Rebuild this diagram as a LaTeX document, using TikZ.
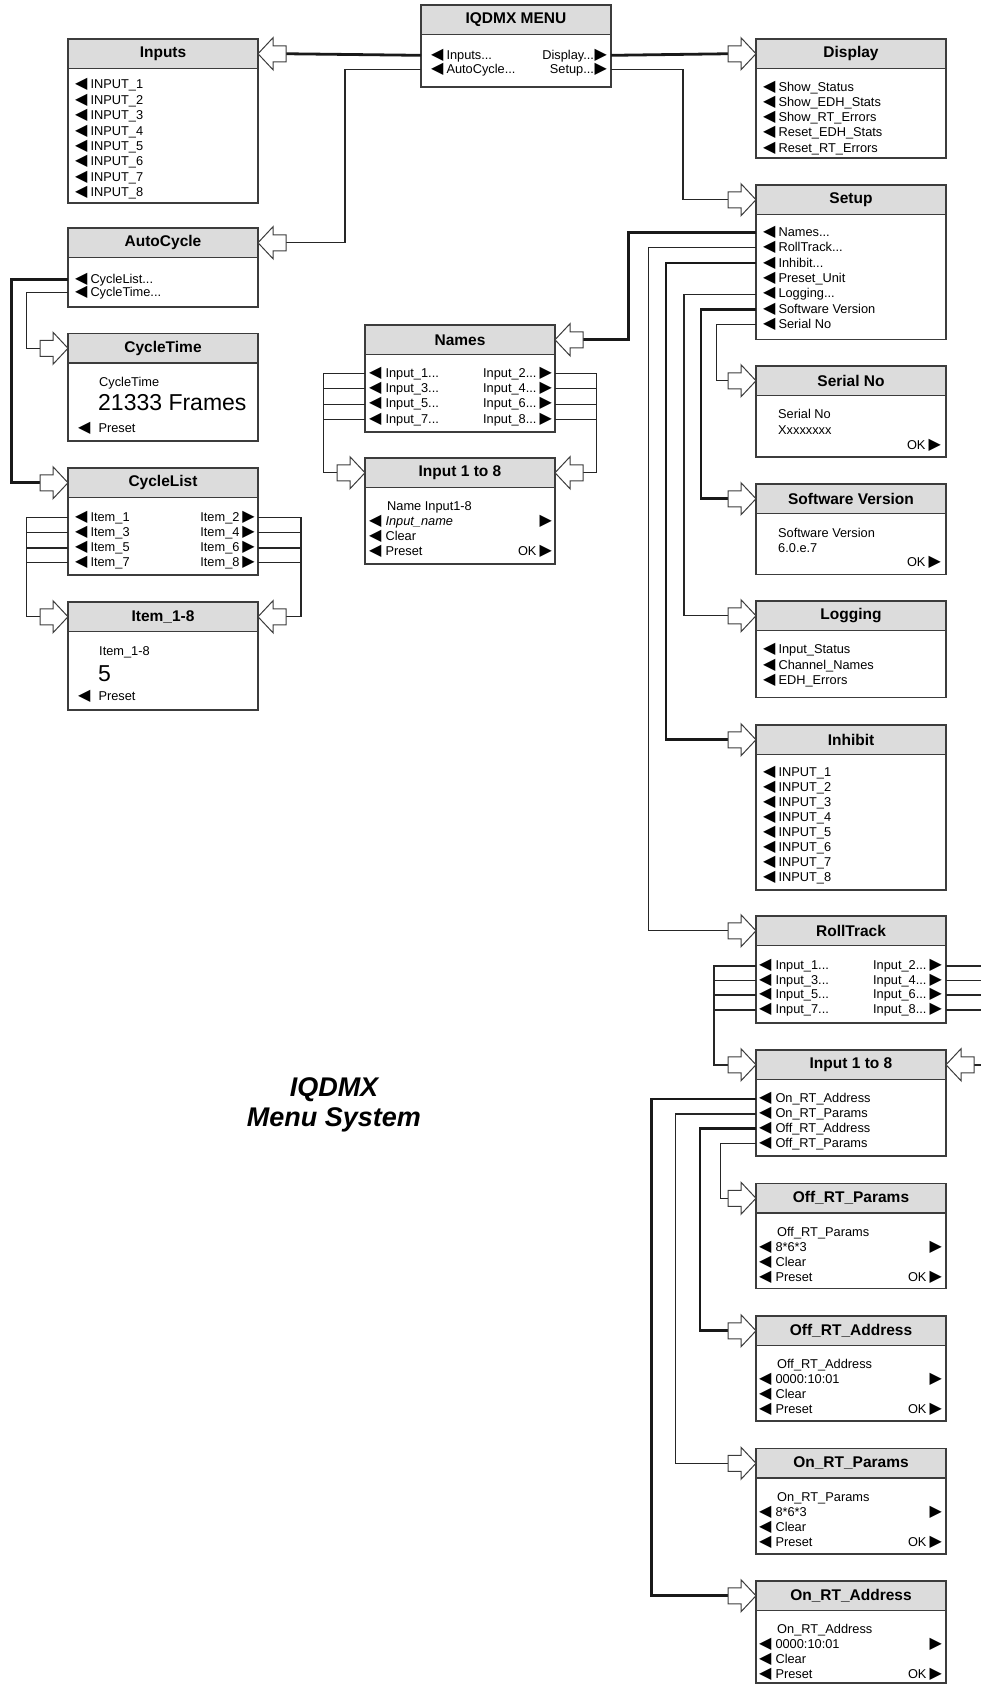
\documentclass[tikz,border=0pt]{standalone}
\usepackage{fontspec}
\setmainfont{Liberation Sans}
\newfontfamily\symf{DejaVu Sans}
\newcommand\tril[1][3pt]{{\symf\fontsize{16}{10}\selectfont ◀}\hspace{#1}}
\newcommand\trir[1][3pt]{\hspace{#1}{\symf\fontsize{16}{10}\selectfont ▶}}
\newcommand\mdots{...}
\definecolor{hdrgray}{HTML}{DCDCDC}
\definecolor{edge}{HTML}{3C3C3C}

\begin{document}
\begin{tikzpicture}[x=1pt,y=-1pt,
    hdr/.style={draw=edge,line width=1.3pt,fill=hdrgray,minimum width=190,minimum height=29.5,
      inner sep=0,outer sep=0,anchor=north west,font=\fontsize{15.5}{18}\selectfont\bfseries},
    itm/.style={anchor=mid west,inner sep=0,yshift=-2pt,font=\fontsize{12.8}{15}\selectfont},
    ritm/.style={itm,anchor=mid east},
    big/.style={itm,yshift=-3pt,font=\fontsize{23}{26}\selectfont},
    ttl/.style={anchor=base,inner sep=0,font=\fontsize{27}{30}\selectfont\bfseries\itshape},
    thk/.style={line width=2.8pt,draw=black!90},
    thn/.style={line width=1.2pt,draw=black!85},
    medln/.style={line width=1.7pt,draw=black!85},
    harr/.pic={\draw[line width=1pt,draw=edge,fill=white] (0,0) -- (-15,16) -- (-15,8) -- (-28,8)
      -- (-28,-8) -- (-15,-8) -- (-15,-16) -- cycle;}
]
\useasboundingbox (0,0) rectangle (981,1684);
\clip (0,0) rectangle (981,1684);

% menu boxes
\foreach \n/\x/\tp/\bt/\s in {
    menu/421/5/87/IQDMX MENU,
    inputs/68/39/203/Inputs,
    autocyc/68/228/307/AutoCycle,
    cyctime/68/333.5/441/CycleTime,
    cyclist/68/468/575/CycleList,
    item/68/602/710/Item\_1-8,
    names/365/325/432/Names,
    nminput/365/458/564/Input 1 to 8,
    display/756/39/158/Display,
    setup/756/185/339.5/Setup,
    serial/756/366/457/Serial No,
    softver/756/484/574.5/Software Version,
    logging/756/601/697.5/Logging,
    inhibit/756/725/890/Inhibit,
    rolltrack/756/916/1023/RollTrack,
    rtinput/756/1050/1156/Input 1 to 8,
    offpar/756/1183.5/1288.5/Off\_RT\_Params,
    offadr/756/1316/1421/Off\_RT\_Address,
    onpar/756/1448.5/1554/On\_RT\_Params,
    onadr/756/1581/1683/On\_RT\_Address}{
  \draw[draw=edge,line width=1.3pt,fill=white] (\x,\tp) rectangle (\x+190,\bt);
  \node[hdr] (\n) at (\x,\tp) {\s};
  \coordinate (\n-in) at ([xshift=-28pt]\n.west);
  \coordinate (\n-inr) at ([xshift=28pt]\n.east);
}

% main menu
\node[itm] (mL1) at (431,54.5) {\tril Inputs...};
\node[itm] (mL2) at (431,68.5) {\tril AutoCycle...};
\node[ritm] (mR1) at (607,54.5) {Display...\trir[0.5pt]};
\node[ritm] (mR2) at (607,68.5) {Setup...\trir[0.5pt]};

% left column
\foreach \i in {1,...,8}
  \node[itm] (in\i) at (75,{84.3+15.4*(\i-1)}) {\tril INPUT\_\i};
\node[itm] (ac1) at (75,278.5) {\tril CycleList...};
\node[itm] (ac2) at (75,291.7) {\tril CycleTime...};
\node[itm] (ctT) at (99,381.7) {CycleTime};
\node[big] (ctV) at (98,403.3) {21333 Frames};
\node[itm] (ctP) at (78,427.7) {\tril[8pt]Preset};
\foreach \i/\y in {1/516.7,2/531.7,3/547.3,4/561.7}{
  \pgfmathtruncatemacro\na{2*\i-1}
  \pgfmathtruncatemacro\nb{2*\i}
  \node[itm] (clL\i) at (75,\y) {\tril Item\_\na};
  \node[ritm] (clR\i) at (255,\y) {Item\_\nb\trir};
}
\node[itm] (itT) at (99,651) {Item\_1-8};
\node[big] (itV) at (98,673.5) {5};
\node[itm] (itP) at (78,696) {\tril[8pt]Preset};

% names
\foreach \i/\y in {1/372.7,2/387.9,3/403.3,4/418.7}{
  \pgfmathtruncatemacro\na{2*\i-1}
  \pgfmathtruncatemacro\nb{2*\i}
  \node[itm] (nmL\i) at (369,\y) {\tril[4pt]Input\_\na\mdots};
  \node[ritm] (nmR\i) at (552,\y) {Input\_\nb\mdots\trir};
}
\node[itm] (niT) at (387,505.5) {Name Input1-8};
\node[itm] (niN) at (369,520.7) {\tril[4pt]\textit{Input\_name}};
\node[ritm] (niNr) at (552,520.7) {\trir};
\node[itm] (niC) at (369,535.7) {\tril[4pt]Clear};
\node[itm] (niP) at (369,550.5) {\tril[4pt]Preset};
\node[ritm] (niOK) at (552,550.5) {OK\trir};

% right column
\foreach \txt [count=\i] in {Show\_Status,Show\_EDH\_Stats,Show\_RT\_Errors,Reset\_EDH\_Stats,Reset\_RT\_Errors}
  \node[itm] (dp\i) at (763,{86.7+15.2*(\i-1)}) {\tril \txt};
\foreach \txt [count=\i] in {Names\mdots,RollTrack\mdots,Inhibit\mdots,Preset\_Unit,Logging\mdots,Software Version,Serial No}
  \node[itm] (su\i) at (763,{231.7+15.4*(\i-1)}) {\tril \txt};
\node[itm] (snT) at (778,414.3) {Serial No};
\node[itm] (snV) at (778,430) {Xxxxxxxx};
\node[ritm] (snOK) at (941,444.5) {OK\trir};
\node[itm] (svT) at (778,532.7) {Software Version};
\node[itm] (svV) at (778,547.7) {6.0.e.7};
\node[ritm] (svOK) at (941,562) {OK\trir};
\foreach \txt [count=\i] in {Input\_Status,Channel\_Names,EDH\_Errors}
  \node[itm] (lg\i) at (763,{649.3+15.3*(\i-1)}) {\tril \txt};
\foreach \i in {1,...,8}
  \node[itm] (ih\i) at (763,{771.7+15*(\i-1)}) {\tril INPUT\_\i};
\foreach \i/\y in {1/965,2/979.7,3/994.3,4/1009}{
  \pgfmathtruncatemacro\na{2*\i-1}
  \pgfmathtruncatemacro\nb{2*\i}
  \node[itm] (rtL\i) at (759,\y) {\tril[4pt]Input\_\na\mdots};
  \node[ritm] (rtR\i) at (942,\y) {Input\_\nb\mdots\trir};
}
\foreach \txt/\y [count=\i] in {On\_RT\_Address/1098.3,On\_RT\_Params/1113.3,Off\_RT\_Address/1128,Off\_RT\_Params/1143}
  \node[itm] (riL\i) at (759,\y) {\tril[4pt]\txt};
\foreach \p/\txt/\v/\y in {op/Off\_RT\_Params/8*6*3/1231.7,oa/Off\_RT\_Address/0000:10:01/1364.3,
    pp/On\_RT\_Params/8*6*3/1496.7,pa/On\_RT\_Address/0000:10:01/1629.3}{
  \node[itm] (\p-T) at (777,\y) {\txt};
  \node[itm] (\p-V) at (759,\y+15) {\tril[4pt]\v};
  \node[ritm] (\p-Vr) at (942,\y+15) {\trir};
  \node[itm] (\p-C) at (759,\y+30) {\tril[4pt]Clear};
  \node[itm] (\p-P) at (759,\y+45) {\tril[4pt]Preset};
  \node[ritm] (\p-OK) at (942,\y+45) {OK\trir};
}

% connectors
\draw[thk] (menu.west |- mL1) -- (inputs-inr);
\draw[thn] (menu.west |- mL2) -- ++(-76,0) |- (autocyc-inr);
\draw[thk] (menu.east |- mR1) -- (display-in);
\draw[thn] (menu.east |- mR2) -- ++(72,0) |- (setup-in);
\draw[thk] (autocyc.west |- ac1) -- ++(-56.5,0) |- (cyclist-in);
\draw[thn] (autocyc.west |- ac2) -- ++(-41.5,0) |- (cyctime-in);
\foreach \i in {2,3}{
  \draw[thn] (cyclist.west |- clL\i) -- ++(-41.3,0);
  \draw[thn] (cyclist.east |- clR\i) -- ++(43,0);
  \draw[thn] (names.west |- nmL\i) -- ++(-41.7,0);
  \draw[thn] (names.east |- nmR\i) -- ++(41.7,0);
}
\draw[medln] (cyclist.west |- clL4) -- ++(-41.3,0);
\draw[medln] (cyclist.east |- clR4) -- ++(43,0);
\draw[thn] (cyclist.west |- clL1) -- ++(-41.3,0) |- (item-in);
\draw[thn] (cyclist.east |- clR1) -- ++(43,0) |- (item-inr);
\draw[medln] (names.west |- nmL4) -- ++(-41.7,0);
\draw[medln] (names.east |- nmR4) -- ++(41.7,0);
\draw[thn] (names.west |- nmL1) -- ++(-41.7,0) |- (nminput-in);
\draw[thn] (names.east |- nmR1) -- ++(41.7,0) |- (nminput-inr);
\draw[thk] (setup.west |- su1) -- ++(-127.7,0) |- (names-inr);
\draw[thn] (setup.west |- su2) -- ++(-107.7,0) |- (rolltrack-in);
\draw[thk] (setup.west |- su3) -- ++(-90,0) |- (inhibit-in);
\draw[thn] (setup.west |- su5) -- ++(-72,0) |- (logging-in);
\draw[thk] (setup.west |- su6) -- ++(-55,0) |- (softver-in);
\draw[thn] (setup.west |- su7) -- ++(-39.3,0) |- (serial-in);
\foreach \i in {2,3,4}{
  \draw[medln] (rolltrack.west |- rtL\i) -- ++(-41.7,0);
  \draw[medln] (rolltrack.east |- rtR\i) -- ++(50,0);
}
\draw[medln] (rolltrack.west |- rtL1) -- ++(-41.7,0) |- (rtinput-in);
\draw[medln] (rolltrack.east |- rtR1) -- ++(50,0) |- (rtinput-inr);
\draw[thk] (rtinput.west |- riL1) -- ++(-104.3,0) |- (onadr-in);
\draw[thn] (rtinput.west |- riL2) -- ++(-80.3,0) |- (onpar-in);
\draw[thk] (rtinput.west |- riL3) -- ++(-56,0) |- (offadr-in);
\draw[thn] (rtinput.west |- riL4) -- ++(-35.3,0) |- (offpar-in);

% hollow arrows
\foreach \n in {cyctime,cyclist,item,nminput,display,setup,serial,softver,logging,
    inhibit,rolltrack,rtinput,offpar,offadr,onpar,onadr}
  \pic at (\n.west) {harr};
\foreach \n in {inputs,autocyc,item,names,nminput,rtinput}
  \pic[rotate=180] at (\n.east) {harr};

% title
\node[ttl] (ttl1) at (334,1096) {IQDMX};
\node[ttl] (ttl2) at (334,1126) {Menu System};
\end{tikzpicture}
\end{document}
